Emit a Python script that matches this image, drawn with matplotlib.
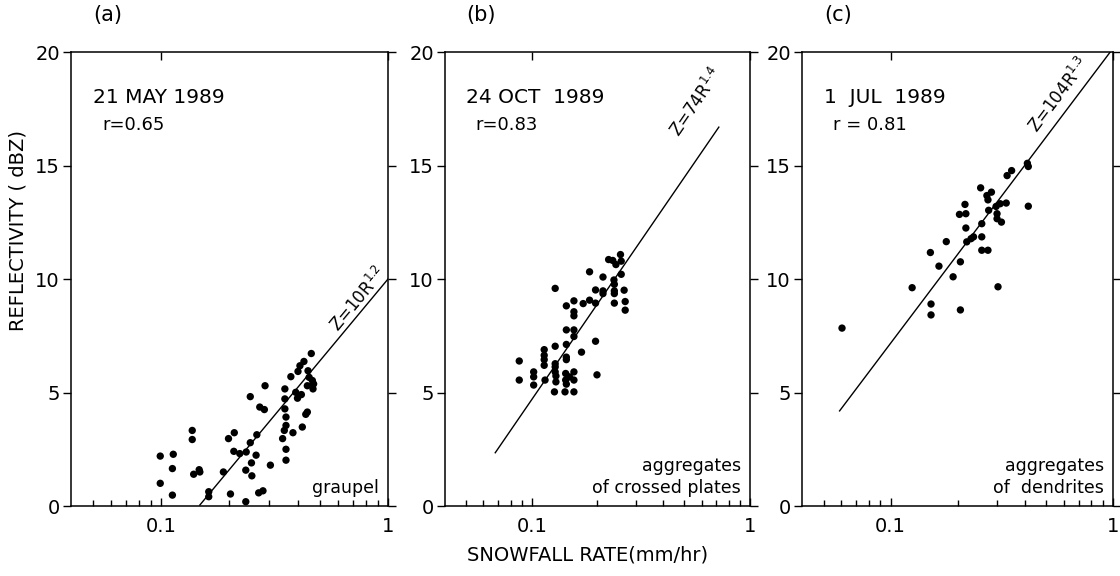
import numpy as np
from matplotlib import pyplot as plt
from matplotlib.ticker import FixedLocator, NullFormatter

plt.rcParams['font.family'] = ['DejaVu Sans']
plt.rcParams['mathtext.fontset'] = 'dejavusans'

# ----------------data----------------------------------------------------
# (a) 21 MAY 1989, graupel
rate_a = [0.099, 0.099, 0.113, 0.112, 0.112, 0.137, 0.137, 0.139, 0.147, 0.148,
          0.162, 0.162, 0.188, 0.198, 0.210, 0.202, 0.209, 0.222, 0.237, 0.236,
          0.236, 0.247, 0.247, 0.250, 0.251, 0.262, 0.264, 0.269, 0.281, 0.272,
          0.285, 0.287, 0.303, 0.343, 0.349, 0.351, 0.351, 0.351, 0.355, 0.355,
          0.355, 0.355, 0.373, 0.381, 0.392, 0.399, 0.401, 0.409, 0.415, 0.419,
          0.426, 0.434, 0.441, 0.444, 0.449, 0.459, 0.464, 0.467, 0.441, 0.470]
dbz_a = [2.2, 1.0, 2.28, 1.65, 0.48, 3.33, 2.93, 1.4, 1.6, 1.5,
         0.63, 0.41, 1.5, 2.97, 3.23, 0.53, 2.41, 2.31, 2.38, 1.58,
         0.19, 4.82, 2.79, 1.9, 1.33, 2.24, 3.14, 0.58, 0.67, 4.36,
         4.25, 5.3, 1.8, 2.97, 3.33, 5.16, 4.72, 4.28, 3.92, 3.55,
         2.5, 2.02, 5.7, 3.23, 5.01, 4.75, 5.93, 6.18, 4.91, 3.48,
         6.37, 4.04, 4.14, 5.96, 5.67, 6.72, 5.53, 5.16, 5.3, 5.38]

# (b) 24 OCT 1989, aggregates of crossed plates
rate_b = [0.0876, 0.0876, 0.102, 0.102, 0.102, 0.114, 0.114, 0.114, 0.114, 0.115,
          0.128, 0.128, 0.128, 0.128, 0.128, 0.129, 0.129, 0.127, 0.142, 0.156,
          0.144, 0.144, 0.144, 0.144, 0.144, 0.143, 0.143, 0.144, 0.149, 0.156,
          0.156, 0.156, 0.156, 0.156, 0.156, 0.156, 0.169, 0.172, 0.184, 0.184,
          0.196, 0.196, 0.196, 0.199, 0.212, 0.212, 0.212, 0.225, 0.235, 0.238,
          0.239, 0.239, 0.239, 0.239, 0.243, 0.255, 0.257, 0.257, 0.265, 0.268,
          0.268]
dbz_b = [6.39, 5.55, 5.91, 5.69, 5.33, 6.89, 6.64, 6.45, 6.2, 5.55,
         9.59, 7.04, 6.27, 6.13, 5.91, 5.73, 5.47, 5.03, 5.03, 5.03,
         8.82, 7.76, 7.12, 6.56, 6.45, 5.84, 5.55, 5.37, 5.69, 9.04,
         8.56, 8.38, 7.76, 7.47, 5.91, 5.55, 6.78, 8.92, 10.32, 9.07,
         9.52, 8.94, 7.26, 5.78, 10.09, 9.48, 9.36, 10.86, 10.82, 9.96,
         9.77, 9.48, 9.36, 8.94, 10.64, 11.08, 10.79, 10.21, 9.51, 9.01,
         8.63]

# (c) 1 JUL 1989, aggregates of dendrites
rate_c = [0.0605, 0.125, 0.151, 0.152, 0.152, 0.165, 0.178, 0.191, 0.206, 0.206,
          0.204, 0.216, 0.218, 0.218, 0.220, 0.230, 0.236, 0.254, 0.257, 0.257,
          0.257, 0.274, 0.271, 0.274, 0.284, 0.276, 0.298, 0.301, 0.301, 0.304,
          0.311, 0.315, 0.331, 0.334, 0.350, 0.412, 0.416, 0.416]
dbz_c = [7.84, 9.62, 11.17, 8.9, 8.42, 10.57, 11.65, 10.1, 10.76, 8.64,
         12.85, 13.29, 12.88, 12.25, 11.64, 11.78, 11.86, 14.02, 12.44, 11.86,
         11.27, 11.27, 13.68, 13.49, 13.83, 13.03, 13.2, 12.88, 12.66, 9.66,
         13.32, 12.51, 13.35, 14.56, 14.78, 15.1, 14.96, 13.21]

panel_tags = ['(a)', '(b)', '(c)']
dates = ['21 MAY 1989', '24 OCT  1989', '1  JUL  1989']
r_labels = ['r=0.65', 'r=0.83', 'r = 0.81']
types = ['graupel', 'aggregates\nof crossed plates', 'aggregates\nof  dendrites']
# Z = a R^b fits and the rate range each line covers
fit_a = [10, 74, 104]
fit_b = [1.2, 1.4, 1.3]
fit_range = [(0.148, 1.0), (0.068, 0.72), (0.059, 0.97)]
fit_labels = [r'Z=10R$^{1.2}$', r'Z=74R$^{1.4}$', r'Z=104R$^{1.3}$']
fit_label_pos = [(0.74, 9.1), (0.57, 17.8), (0.57, 18.1)]

# ----------------figure--------------------------------
fig = plt.figure(figsize=(11.2, 5.76), dpi=100)
boxes = [[0.0634, 0.1215, 0.283, 0.788],
         [0.3973, 0.1215, 0.2723, 0.788],
         [0.7161, 0.1215, 0.2777, 0.788]]
rates = [rate_a, rate_b, rate_c]
dbzs = [dbz_a, dbz_b, dbz_c]

for i in range(3):
    ax = fig.add_axes(boxes[i])
    ax.set_xscale('log')
    ax.set_xlim(0.04, 1)
    ax.set_ylim(0, 20)

    ax.scatter(rates[i], dbzs[i], s=28, c='black', edgecolors='none', zorder=3)

    r_line = np.logspace(np.log10(fit_range[i][0]), np.log10(fit_range[i][1]), 50)
    z_line = 10 * np.log10(fit_a[i] * r_line ** fit_b[i])
    ax.plot(r_line, z_line, color='black', lw=1.0)

    # rotate the fit label along the line on screen
    p0 = ax.transData.transform((r_line[0], z_line[0]))
    p1 = ax.transData.transform((r_line[-1], z_line[-1]))
    ang = np.degrees(np.arctan2(p1[1] - p0[1], p1[0] - p0[0]))
    ax.text(fit_label_pos[i][0], fit_label_pos[i][1], fit_labels[i], rotation=ang,
            rotation_mode='anchor', ha='center', va='center', fontsize=12)

    ax.text(0.07, 0.90, dates[i], transform=ax.transAxes, fontsize=14.5, va='center')
    ax.text(0.10, 0.84, r_labels[i], transform=ax.transAxes, fontsize=13, va='center')
    ax.text(0.97, 0.02, types[i], transform=ax.transAxes, fontsize=12.5,
            ha='right', va='bottom', multialignment='right', linespacing=1.3)
    ax.text(0.07, 1.06, panel_tags[i], transform=ax.transAxes, fontsize=15, va='bottom')

    ax.set_yticks([0, 5, 10, 15, 20])
    ax.set_yticklabels(['0', '5', '10', '15', '20'])
    ax.tick_params(axis='y', direction='out', length=6, width=1, labelsize=14, pad=2)
    ax.tick_params(axis='y', right=True)
    ax.xaxis.set_major_locator(FixedLocator([0.1, 1]))
    ax.set_xticklabels(['0.1', '1'])
    ax.xaxis.set_minor_locator(FixedLocator([0.05, 0.06, 0.07, 0.08, 0.09,
                                             0.2, 0.3, 0.4, 0.5, 0.6, 0.7, 0.8, 0.9]))
    ax.xaxis.set_minor_formatter(NullFormatter())
    ax.tick_params(axis='x', which='major', direction='in', length=6, width=1,
                   labelsize=14, top=True, pad=8)
    ax.tick_params(axis='x', which='minor', direction='in', length=4, width=1)
    for sp in ax.spines.values():
        sp.set_linewidth(1.1)

fig.text(0.525, 0.036, 'SNOWFALL RATE(mm/hr)', ha='center', va='center', fontsize=14)
fig.text(0.016, 0.60, 'REFLECTIVITY ( dBZ)', rotation=90, ha='center', va='center', fontsize=14)

plt.savefig('out.png', dpi=100)
